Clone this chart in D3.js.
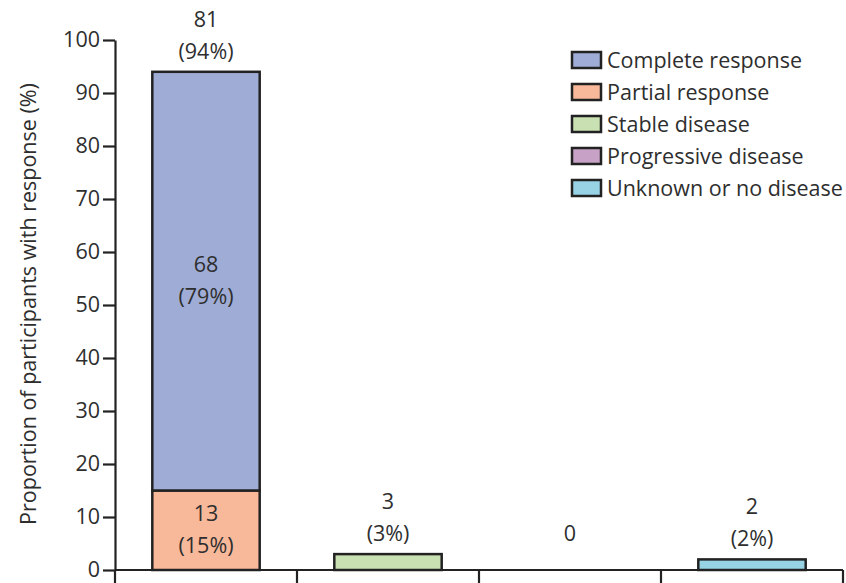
<!DOCTYPE html>
<html>
<head>
<meta charset="utf-8">
<script src="https://cdn.jsdelivr.net/npm/d3@7/dist/d3.min.js"></script>
<style>
  html, body { margin: 0; padding: 0; background: #fff; }
  svg { display: block; }
  text { font-family: "Open Sans", "Noto Sans", sans-serif; fill: #2e2e2e; }
</style>
</head>
<body>
<svg id="chart" width="846" height="583"></svg>
<script>
// Response categories, one column each
const columns = ["Response", "Stable disease", "Progressive disease", "Unknown or no disease"];

// Outcome series: which column each belongs to, participant counts and percentages
const series = ["Complete response", "Partial response", "Stable disease", "Progressive disease", "Unknown or no disease"];
const seriesColumn = [0, 0, 1, 2, 3];
const counts = [68, 13, 3, 0, 2];
const percents = [79, 15, 3, 0, 2];
const colors = ["#9facd5", "#f8b89a", "#c9e0b2", "#c7a1c6", "#98d3e5"];

// Stacking order inside a column (bottom first)
const stackOrder = [1, 0, 2, 3, 4];

const yTicks = [0, 10, 20, 30, 40, 50, 60, 70, 80, 90, 100];
const yTitle = "Proportion of participants with response (%)";

const svg = d3.select("#chart");
const ink = "#222";

const y = d3.scaleLinear().domain([0, 100]).range([570, 40]);
const x = d3.scaleBand().domain(columns).range([115, 843])
  .paddingInner(0.41).paddingOuter(0.205);

// Build stacked segments
const base = columns.map(() => 0);
const baseCount = columns.map(() => 0);
const segments = [];
stackOrder.forEach(i => {
  const c = seriesColumn[i];
  segments.push({ i, col: columns[c], y0: base[c], y1: base[c] + percents[i] });
  base[c] += percents[i];
  baseCount[c] += counts[i];
});

// Bars
svg.append("g").selectAll("rect")
  .data(segments.filter(d => d.y1 > d.y0))
  .join("rect")
  .attr("x", d => x(d.col))
  .attr("width", x.bandwidth())
  .attr("y", d => y(d.y1))
  .attr("height", d => y(d.y0) - y(d.y1))
  .attr("fill", d => colors[d.i])
  .attr("stroke", ink)
  .attr("stroke-width", 2.5);

const fs = 21.5, lineGap = 32;

// Labels inside segments of stacked column (only where more than one series shares a column)
const multi = columns.map((c, ci) => seriesColumn.filter(s => s === ci).length > 1);
const inner = svg.append("g").attr("text-anchor", "middle").style("font-size", fs + "px");
segments.filter(d => multi[columns.indexOf(d.col)] && d.y1 > d.y0).forEach(d => {
  const cx = x(d.col) + x.bandwidth() / 2;
  const mid = (y(d.y0) + y(d.y1)) / 2;
  inner.append("text").attr("x", cx).attr("y", mid - lineGap / 2 + 7).text(counts[d.i]);
  inner.append("text").attr("x", cx).attr("y", mid + lineGap / 2 + 7).text("(" + percents[d.i] + "%)");
});

// Totals above each column
columns.forEach((c, ci) => {
  const cx = x(c) + x.bandwidth() / 2;
  const top = y(base[ci]);
  if (baseCount[ci] === 0) {
    inner.append("text").attr("x", cx).attr("y", top - 29).text(baseCount[ci]);
  } else {
    inner.append("text").attr("x", cx).attr("y", top - 13).text("(" + base[ci] + "%)");
    inner.append("text").attr("x", cx).attr("y", top - 13 - lineGap).text(baseCount[ci]);
  }
});

// Y axis
const yAxis = svg.append("g").attr("transform", "translate(115,0)")
  .call(d3.axisLeft(y).tickValues(yTicks).tickSize(12).tickPadding(3).tickSizeOuter(0));
yAxis.select(".domain").attr("stroke", ink).attr("stroke-width", 2.2);
yAxis.selectAll(".tick line").attr("stroke", ink).attr("stroke-width", 2.2);
yAxis.selectAll(".tick text").style("font-size", fs + "px").style("font-family", "'Open Sans', 'Noto Sans', sans-serif").attr("fill", "#2e2e2e");

// X axis baseline with separators between columns
const step = x.step();
const bounds = columns.map(c => x(c) - step * x.paddingInner() / 2).concat([x.range()[1]]);
const xg = svg.append("g");
xg.append("line").attr("x1", 115).attr("x2", x.range()[1]).attr("y1", y(0)).attr("y2", y(0))
  .attr("stroke", ink).attr("stroke-width", 2.2);
xg.selectAll("line.sep").data(bounds).join("line").attr("class", "sep")
  .attr("x1", d => d).attr("x2", d => d).attr("y1", y(0)).attr("y2", y(0) + 14)
  .attr("stroke", ink).attr("stroke-width", 2.2);

// Y axis title
svg.append("text")
  .attr("transform", "translate(36," + ((y(0) + y(100)) / 2 - 1) + ") rotate(-90)")
  .attr("text-anchor", "middle")
  .style("font-size", "21.5px")
  .text(yTitle);

// Legend
const lg = svg.append("g").attr("transform", "translate(572,52)");
series.forEach((s, i) => {
  const row = lg.append("g").attr("transform", "translate(0," + i * 32 + ")");
  row.append("rect").attr("width", 29).attr("height", 16)
    .attr("fill", colors[i]).attr("stroke", ink).attr("stroke-width", 2.5);
  row.append("text").attr("x", 35).attr("y", 15.5).style("font-size", fs + "px").text(s);
});
</script>
</body>
</html>
